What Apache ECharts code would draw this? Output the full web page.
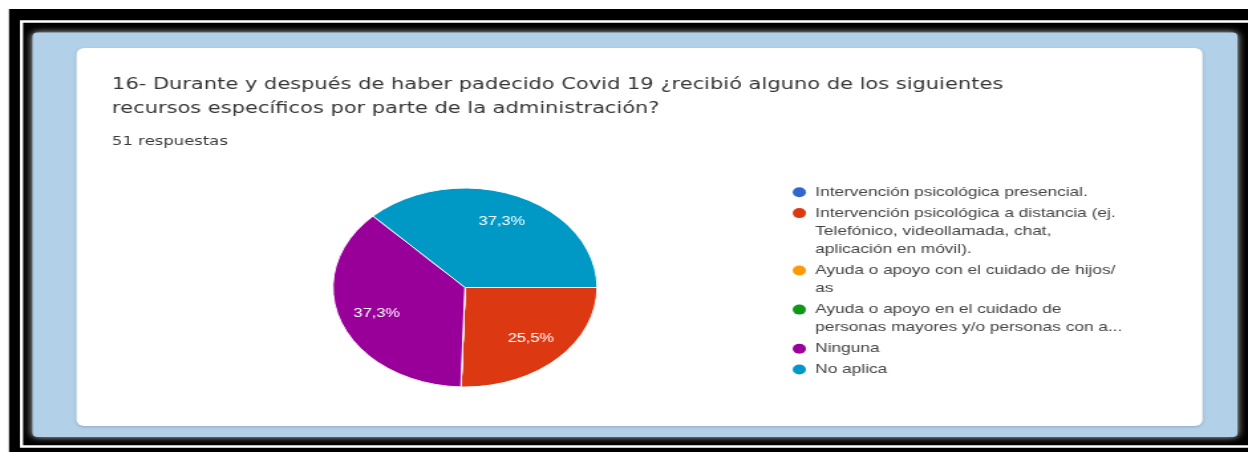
<!DOCTYPE html>
<html>
<head>
<meta charset="utf-8">
<script src="https://cdn.jsdelivr.net/npm/echarts@6/dist/echarts.min.js"></script>
<style>
  html, body { margin: 0; padding: 0; background: #fff; overflow: hidden; }
  #wrap { width: 1248px; height: 452px; overflow: hidden; position: relative; }
  /* the chart is laid out on a narrower canvas and widened to the page */
  #chart { width: 940px; height: 452px; transform: scaleX(1.3276596); transform-origin: 0 0; }
</style>
</head>
<body>
<div id="wrap"><div id="chart"></div></div>
<script>
// ---- data ----
const titleLines = [
  '16- Durante y después de haber padecido Covid 19 ¿recibió alguno de los siguientes',
  'recursos específicos por parte de la administración?'
];
const responsesText = '51 respuestas';
const categories = [
  'Intervención psicológica presencial.',
  'Intervención psicológica a distancia (ej.\nTelefónico, videollamada, chat,\naplicación en móvil).',
  'Ayuda o apoyo con el cuidado de hijos/\nas',
  'Ayuda o apoyo en el cuidado de\npersonas mayores y/o personas con a...',
  'Ninguna',
  'No aplica'
];
const counts = [0, 13, 0, 0, 19, 19];
const colors = ['#3366cc', '#dc3912', '#ff9900', '#109618', '#990099', '#0099c6'];

// ---- layout helpers ----
const S = 1248 / 940;          // horizontal widening of the canvas
const X = v => v / S;          // page x -> canvas x
const total = counts.reduce((a, b) => a + b, 0);

const chart = echarts.init(document.getElementById('chart'), null, { renderer: 'canvas' });

const LH = 18.3;
const rich = {
  g:  { width: 7,  lineHeight: LH },
  g2: { width: 17, lineHeight: LH }
};
colors.forEach((c, i) => {
  rich['d' + i] = { width: 10, height: 10, borderRadius: 5, backgroundColor: c, lineHeight: LH };
});

const pieCenter = [X(465), 287.5];
const pieR = 99.5;

const option = {
  animation: false,
  backgroundColor: 'transparent',
  graphic: [
    // outer frame
    { type: 'rect', silent: true, z: -10, shape: { x: X(9), y: 9, width: X(1260), height: 460 }, style: { fill: '#000' } },
    { type: 'rect', silent: true, z: -9, shape: { x: X(21.5), y: 21.5, width: X(1260), height: 425 }, style: { fill: 'none', stroke: '#fff', lineWidth: 2.4 } },
    // blue panel with bevelled edge
    { type: 'rect', silent: true, z: -8, shape: { x: X(32.5), y: 32.5, width: X(1237.5 - 32.5), height: 437 - 32.5, r: 4 },
      style: { fill: '#b2d0e8', shadowBlur: 6, shadowColor: 'rgba(215,215,215,0.95)' } },
    // white card
    { type: 'rect', silent: true, z: -7, shape: { x: X(76.5), y: 48, width: X(1202.5 - 76.5), height: 426 - 48, r: 6 },
      style: { fill: '#ffffff', shadowBlur: 3, shadowOffsetY: 1, shadowColor: 'rgba(0,0,0,0.18)' } }
  ],
  title: [
    {
      text: titleLines.join('\n'),
      left: X(112), top: 73.5, padding: 0,
      textStyle: { fontFamily: 'DejaVu Sans', fontSize: 15.8, fontWeight: 'normal', color: '#353535', lineHeight: 23.5 }
    },
    {
      text: responsesText,
      left: X(112), top: 133.5, padding: 0,
      textStyle: { fontFamily: 'DejaVu Sans', fontSize: 12.4, fontWeight: 'normal', color: '#3a3a3a', lineHeight: 16 }
    }
  ],
  legend: {
    orient: 'vertical',
    left: X(798) - 11,
    top: 192.3 - LH / 2,
    padding: 0,
    itemGap: 2.5,
    itemWidth: 1,
    itemHeight: 1,
    itemStyle: { opacity: 0 },
    selectedMode: false,
    data: categories,
    formatter: name => {
      const i = categories.indexOf(name);
      return name.split('\n').map((line, k) => (k === 0 ? '{d' + i + '| }{g| }' : '{g2| }') + line).join('\n');
    },
    textStyle: {
      fontFamily: 'Liberation Sans, Arial, sans-serif',
      fontSize: 13,
      color: '#454545',
      lineHeight: LH,
      rich: rich
    }
  },
  series: [
    {
      type: 'pie',
      name: 'Recursos',
      center: pieCenter,
      radius: [0, pieR],
      startAngle: 0,
      clockwise: true,
      silent: true,
      label: { show: false },
      labelLine: { show: false },
      itemStyle: { borderColor: '#ffffff', borderWidth: 1 },
      data: categories.map((n, i) => ({ name: n, value: counts[i], itemStyle: { color: colors[i] } }))
    },
    {
      // percentage labels, placed at about two thirds of the radius
      type: 'pie',
      name: 'Porcentajes',
      center: pieCenter,
      radius: [37, pieR],
      startAngle: 0,
      clockwise: true,
      silent: true,
      itemStyle: { color: 'rgba(0,0,0,0)', borderWidth: 0 },
      label: {
        show: true,
        position: 'inside',
        color: '#ffffff',
        fontFamily: 'Liberation Sans, Arial, sans-serif',
        fontSize: 12.3,
        formatter: p => (p.value > 0 ? (p.value / total * 100).toFixed(1).replace('.', ',') + '%' : '')
      },
      labelLine: { show: false },
      data: categories.map((n, i) => ({ name: n, value: counts[i] }))
    }
  ]
};

chart.setOption(option);
</script>
</body>
</html>
